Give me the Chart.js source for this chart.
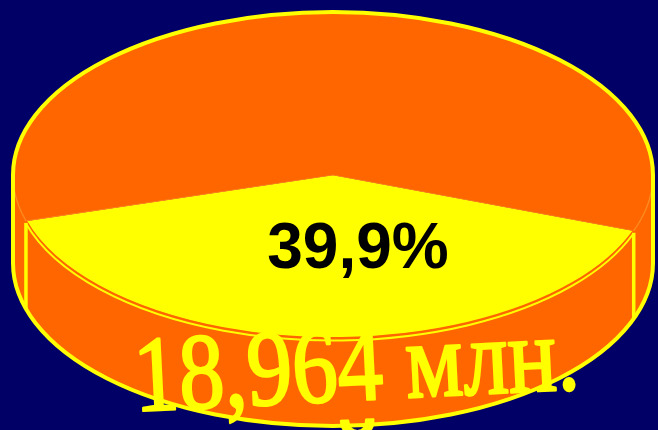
<!DOCTYPE html>
<html lang="ru">
<head>
    <meta charset="UTF-8">
    <title>39,9% — 18,964 млн.</title>
    <script src="https://cdn.jsdelivr.net/npm/chart.js"></script>
    <style>
        html, body {
            margin: 0;
            padding: 0;
            background-color: #000066;
            overflow: hidden;
        }
        .chart-container {
            position: relative;
            width: 658px;
            height: 430px;
        }
    </style>
</head>
<body>
    <div class="chart-container">
        <canvas id="pieChart"></canvas>
    </div>

    <script>
        // Data
        const sliceNames = ['Доля', 'Остальное'];
        const sliceValues = [39.9, 60.1];
        const sliceLabels = ['39,9%', ''];
        const totalLabel = '18,964 млн.';

        // Colours
        const topColors = ['#FFFF00', '#FF6600'];
        const sideColor = '#FF6600';
        const rimColor = '#FFFF00';

        // Tilted disc geometry (ellipse of the top face + wall height)
        const CX = 333, CY = 175, RX = 320, RY = 163, DEPTH = 88;

        const pt = (a, dy = 0) => [CX + RX * Math.cos(a), CY + RY * Math.sin(a) + dy];

        // clip an angle range to the front half of the disc (0..PI)
        function frontPart(s, e) {
            const TAU = Math.PI * 2;
            const span = e - s;
            s = ((s % TAU) + TAU) % TAU;
            e = s + span;
            const parts = [];
            for (const off of [0, TAU, -TAU]) {
                const a = Math.max(s, off), b = Math.min(e, off + Math.PI);
                if (b > a) parts.push([a - off, b - off]);
            }
            return parts;
        }

        const tiltPlugin = {
            id: 'tilt',
            beforeDatasetsDraw(chart) {
                const ctx = chart.ctx;
                const arcs = chart.getDatasetMeta(0).data;

                // side walls
                arcs.forEach(arc => {
                    frontPart(arc.startAngle, arc.endAngle).forEach(([a, b]) => {
                        ctx.beginPath();
                        ctx.ellipse(CX, CY, RX, RY, 0, a, b, false);
                        ctx.ellipse(CX, CY + DEPTH, RX, RY, 0, b, a, true);
                        ctx.closePath();
                        ctx.fillStyle = sideColor;
                        ctx.fill();
                    });
                });

                // squash the circular pie into the top ellipse
                const a0 = arcs[0];
                ctx.save();
                ctx.translate(CX, CY);
                ctx.scale(RX / a0.outerRadius, RY / a0.outerRadius);
                ctx.translate(-a0.x, -a0.y);
            },
            afterDatasetsDraw(chart) {
                const ctx = chart.ctx;
                ctx.restore();
                const arcs = chart.getDatasetMeta(0).data;

                // front top edge of each non-orange slice: thin orange + yellow double line
                arcs.forEach((arc, i) => {
                    if (topColors[i] === sideColor) return;
                    frontPart(arc.startAngle, arc.endAngle).forEach(([a, b]) => {
                        ctx.beginPath();
                        ctx.ellipse(CX, CY, RX, RY, 0, a, b, false);
                        ctx.strokeStyle = '#FF6600';
                        ctx.lineWidth = 2;
                        ctx.stroke();
                        ctx.beginPath();
                        ctx.ellipse(CX, CY + 2.5, RX, RY, 0, a, b, false);
                        ctx.strokeStyle = rimColor;
                        ctx.lineWidth = 2;
                        ctx.stroke();
                    });
                });

                // vertical wall edges at slice boundaries
                ctx.strokeStyle = rimColor;
                ctx.lineWidth = 3.5;
                arcs.forEach(arc => {
                    const a = ((arc.startAngle % (2 * Math.PI)) + 2 * Math.PI) % (2 * Math.PI);
                    if (a > 0.05 && a < Math.PI - 0.05) {
                        const [x, y] = pt(a);
                        ctx.beginPath();
                        ctx.moveTo(x, y + 2);
                        ctx.lineTo(x, y + DEPTH);
                        ctx.stroke();
                    }
                });

                // outer silhouette
                ctx.beginPath();
                ctx.ellipse(CX, CY, RX, RY, 0, 0, Math.PI, true);
                ctx.lineTo(CX - RX, CY + DEPTH);
                ctx.ellipse(CX, CY + DEPTH, RX, RY, 0, Math.PI, 0, true);
                ctx.closePath();
                ctx.lineWidth = 4;
                ctx.lineJoin = 'round';
                ctx.stroke();
            },
            afterDraw(chart) {
                const ctx = chart.ctx;
                ctx.save();

                // slice percentage
                ctx.fillStyle = '#000000';
                ctx.font = 'bold 64px "Liberation Sans", Arial, sans-serif';
                ctx.textAlign = 'center';
                ctx.textBaseline = 'alphabetic';
                ctx.fillText(sliceLabels[0], 358, 268);

                // total, in condensed serif across the wall
                ctx.translate(358, 400);
                ctx.rotate(-0.05);
                ctx.scale(0.84, 1);
                ctx.fillStyle = '#FFFF00';
                ctx.strokeStyle = '#FFFF00';
                ctx.lineWidth = 2.5;
                ctx.lineJoin = 'round';
                ctx.font = '108px "Liberation Serif", "Times New Roman", serif';
                ctx.fillText(totalLabel, 0, 0);
                ctx.strokeText(totalLabel, 0, 0);
                ctx.fillText('й', -2, 94);
                ctx.strokeText('й', -2, 94);
                ctx.restore();
            }
        };

        const ctx = document.getElementById('pieChart').getContext('2d');
        const pieChart = new Chart(ctx, {
            type: 'pie',
            data: {
                labels: sliceNames,
                datasets: [{
                    data: sliceValues,
                    backgroundColor: topColors,
                    borderColor: '#FF8A20',
                    borderWidth: 1
                }]
            },
            options: {
                responsive: true,
                maintainAspectRatio: false,
                animation: false,
                rotation: 110,
                layout: { padding: 0 },
                plugins: {
                    legend: { display: false },
                    tooltip: { enabled: false }
                }
            },
            plugins: [tiltPlugin]
        });
    </script>
</body>
</html>
